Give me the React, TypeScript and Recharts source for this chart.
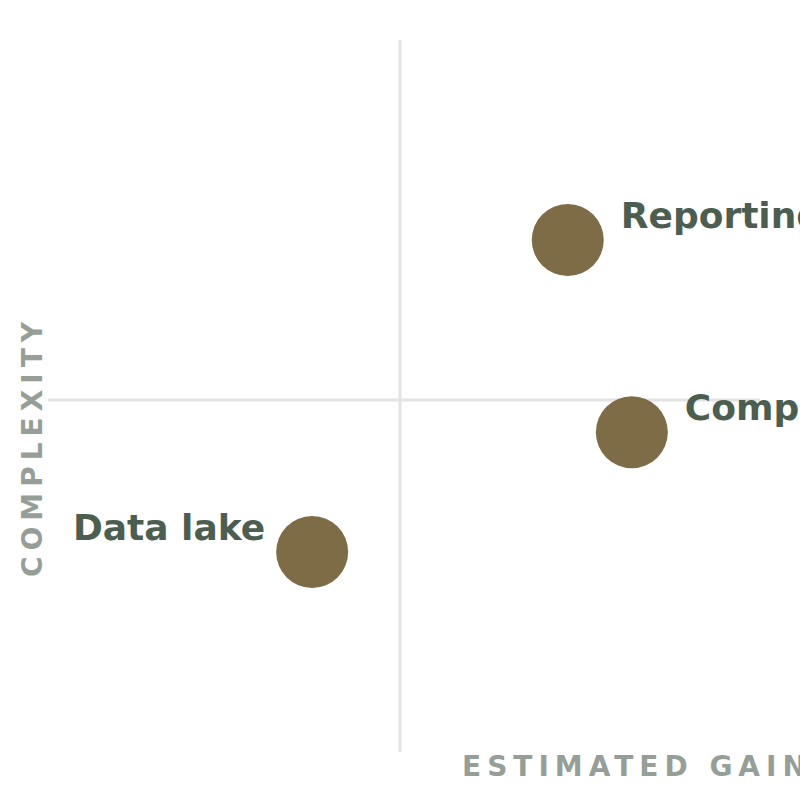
import React from 'react';
import { ScatterChart, Scatter, XAxis, YAxis, ReferenceLine } from 'recharts';

const names = ['Reporting tool', 'Compliance', 'Data lake'];
const gains = [73.0, 82.0, 37.1];
const complexities = [71.9, 44.9, 28.1];
const sides = ['right', 'right', 'left'];
const axisTitles = { x: 'ESTIMATED GAIN', y: 'COMPLEXITY' };
const dividerX = 49.44;
const dividerY = 49.44;

const data = names.map((name, i) => ({
  name,
  gain: gains[i],
  complexity: complexities[i],
  side: sides[i],
}));

const FONT = '"DejaVu Sans", sans-serif';
const DOT = '#7d6c45';
const LABEL = '#4b5e4f';
const AXIS = '#959f98';
const GRID = '#e3e3e3';

const Bubble = (props: any) => {
  const { cx, cy, payload } = props;
  const right = payload.side === 'right';
  return (
    <g>
      <circle cx={cx} cy={cy} r={36} fill={DOT} />
      <text
        x={right ? cx + 53 : cx - 47}
        y={cy - 12}
        textAnchor={right ? 'start' : 'end'}
        fontFamily={FONT}
        fontWeight="bold"
        fontSize={36}
        fill={LABEL}
      >
        {payload.name}
      </text>
    </g>
  );
};

export default function App() {
  return (
    <div style={{ position: 'absolute', left: 0, top: 0, width: 800, height: 800, background: '#fff' }}>
      <ScatterChart width={800} height={800} margin={{ top: 40, right: 40, bottom: 48, left: 48 }}>
        <XAxis type="number" dataKey="gain" domain={[0, 100]} hide />
        <YAxis type="number" dataKey="complexity" domain={[0, 100]} hide />
        <ReferenceLine x={dividerX} stroke={GRID} strokeWidth={3} />
        <ReferenceLine y={dividerY} stroke={GRID} strokeWidth={3} />
        <Scatter data={data} shape={<Bubble />} isAnimationActive={false} />
      </ScatterChart>
      <svg
        width={800}
        height={800}
        style={{ position: 'absolute', left: 0, top: 0, pointerEvents: 'none' }}
      >
        <text
          x={462}
          y={776}
          fontFamily={FONT}
          fontWeight="bold"
          fontSize={28}
          letterSpacing={6}
          fill={AXIS}
        >
          {axisTitles.x}
        </text>
        <text
          x={42}
          y={577}
          transform="rotate(-90, 42, 577)"
          fontFamily={FONT}
          fontWeight="bold"
          fontSize={28}
          letterSpacing={6}
          fill={AXIS}
        >
          {axisTitles.y}
        </text>
      </svg>
    </div>
  );
}
